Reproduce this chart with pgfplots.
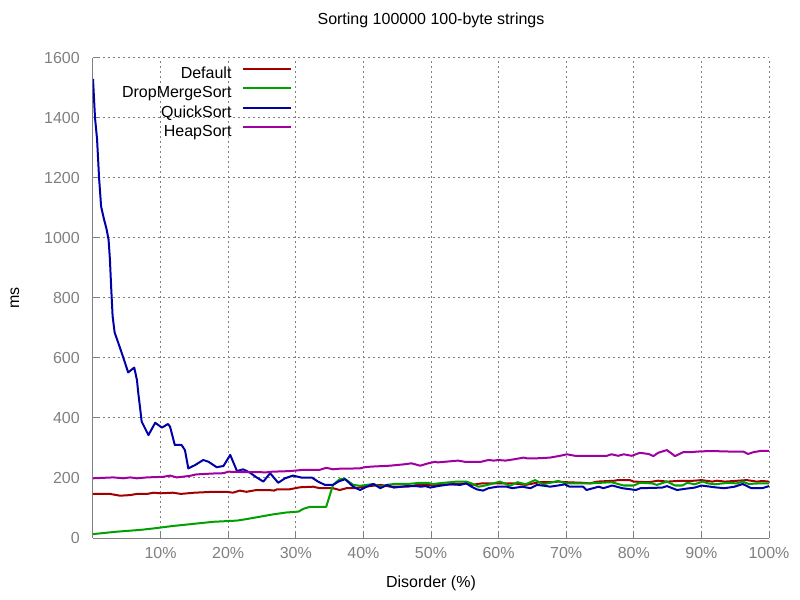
\documentclass[border=0pt]{standalone}
\usepackage{pgfplots}
\pgfplotsset{compat=1.18}
\usepackage{fontspec}
\setmainfont{Liberation Sans}
\definecolor{cDef}{RGB}{160,0,0}
\definecolor{cDrop}{RGB}{0,160,0}
\definecolor{cQuick}{RGB}{0,0,168}
\definecolor{cHeap}{RGB}{160,0,160}
\definecolor{tickgray}{RGB}{128,128,128}
\begin{document}
\begin{tikzpicture}[font=\fontsize{12}{14}\selectfont]
\path[use as bounding box] (-69.75pt,-46.5pt) rectangle (530.25pt,403.5pt);
\begin{axis}[
  at={(0pt,0pt)}, anchor=origin,
  scale only axis, width=507pt, height=360pt,
  xmin=0, xmax=100, ymin=0, ymax=1600,
  xtick={10,20,...,100},
  ytick={0,200,...,1600},
  xticklabel={\pgfmathprintnumber{\tick}\%},
  /pgf/number format/assume math mode=true,
  /pgf/number format/set thousands separator={},
  tick label style={font=\fontsize{12}{14}\selectfont, text=tickgray, inner sep=0pt},
  xticklabel style={anchor=center, yshift=-11.25pt},
  yticklabel style={anchor=east, xshift=-9.75pt},
  scaled ticks=false,
  axis x line*=bottom, axis y line*=left,
  axis line style={draw=tickgray, line width=0.75pt, -},
  tick align=inside, major tick length=3.75pt,
  tick style={draw=tickgray, line width=0.75pt},
  grid=major,
  grid style={draw=tickgray, line width=0.75pt, dash pattern=on 1.5pt off 2.25pt},
  title={Sorting 100000 100-byte strings},
  title style={at={(0.5,1)}, anchor=center, yshift=22.5pt, font=\fontsize{12}{14}\selectfont},
  xlabel={Disorder (\%)},
  xlabel style={at={(0.5,0)}, anchor=center, yshift=-33.75pt, font=\fontsize{12}{14}\selectfont},
  ylabel={ms},
  ylabel style={at={(axis description cs:-0.1154,0.5)}, anchor=center, font=\fontsize{12}{14}\selectfont},
  legend plot pos=right,
  legend cell align=right,
  legend image code/.code={\path (0pt,4pt); \draw[#1] (6.75pt,4pt) -- (42.75pt,4pt);},
  legend style={draw=none, fill=none, at={(rel axis cs:0.3004,0.9892)}, anchor=north east,
    font=\fontsize{12}{14}\selectfont, row sep=2.6pt,
    nodes={inner sep=1pt, text height=8pt, text depth=2pt}},
  every axis plot/.append style={line width=1.5pt, no markers, line join=round},
]
\addplot[cDef] coordinates {
(0,147) (2.5,147) (4,141) (5.5,143) (6.5,147) (8,147) (9,151) (10,149) (11.8,151) (13,147)
(15,151) (17.8,154) (19.8,154) (20.7,151) (21.7,158) (22.7,154) (24.2,160) (26,160) (26.8,158) (27.2,162)
(29,162) (30.6,169) (32.6,171) (33.5,166) (35.5,166) (36.5,160) (37.5,166) (39,166) (39.5,169) (41,173)
(42.5,177) (44,171) (46.5,171) (48,177) (51.5,177) (55.2,182) (56,177) (57.5,182) (59.8,182) (62.2,182)
(64,177) (66.1,186) (68,186) (68.8,188) (70,186) (72.5,184) (73.5,182) (74.6,188) (77.2,191) (77.6,193)
(79.4,193) (80,188) (82.2,186) (83.6,191) (85,188) (86.4,190) (88,190) (89,191) (90,193) (91.6,188)
(92.3,191) (93.5,188) (96.7,193) (98.2,188) (99,190) (100,188)
};
\addlegendentry{Default}
\addplot[cDrop] coordinates {
(0,13) (3.5,21) (7,27) (9,32) (11.8,40) (14.8,47) (17.8,54) (21.3,58) (22.7,63) (24.7,71)
(26.7,79) (28.6,85) (30.4,88) (31.1,97) (32.1,104) (34.5,104) (35.5,177) (36.5,196) (37.2,198) (38.5,177)
(39.5,174) (40.5,177) (41.5,180) (42.5,171) (43.5,177) (44.5,180) (46.5,180) (48.4,184) (49.6,184) (50.2,179)
(51,182) (53.8,188) (55.2,188) (56,182) (57,171) (57.6,173) (58.4,177) (60.2,188) (61.7,174) (62.8,186)
(64,179) (65.4,193) (66.6,179) (67.6,184) (68.8,190) (70,182) (73.5,182) (76.7,186) (78.5,175) (80,175)
(80.9,184) (82.7,182) (83.4,177) (84.9,188) (86.1,175) (87.2,175) (87.9,184) (89,179) (90.2,188) (91,182)
(92,179) (94,184) (95.2,182) (96.1,188) (97,180) (98.5,182) (100,182)
};
\addlegendentry{DropMergeSort}
\addplot[cQuick] coordinates {
(0,1530) (0.3,1400) (0.6,1330) (0.9,1200) (1.2,1105) (1.6,1065) (2.0,1030) (2.3,995) (2.5,930) (2.7,830)
(2.9,740) (3.2,685) (3.9,640) (4.5,600) (5.2,552) (6.1,568) (6.5,527) (6.7,483) (7.0,427) (7.2,388)
(8.2,343) (9.2,384) (10.2,368) (11.1,380) (11.4,371) (12.1,310) (13.1,310) (13.6,293) (14.1,232) (15.1,243)
(16.3,260) (17.1,254) (18.3,236) (19.3,240) (20.3,277) (21.3,223) (22.2,229) (23.2,218) (24.2,202) (25.2,188)
(26.2,216) (27.4,184) (28.4,199) (29.6,208) (30.9,201) (32.4,201) (33.3,188) (34.3,177) (35.5,177) (36.3,188)
(37.3,196) (38.5,171) (39.5,160) (40.5,171) (41.5,180) (42.5,166) (43.5,177) (44.5,168) (46.4,173) (47.8,173)
(48.5,171) (49.2,173) (49.9,168) (51,173) (52.8,179) (54.3,177) (55.2,182) (56,171) (56.8,162) (57.7,158)
(58.5,166) (59.8,171) (61.2,171) (62,166) (63.5,171) (64.7,166) (65.7,177) (67.1,173) (67.6,171) (68.8,175)
(69.8,179) (70.5,171) (72.5,171) (73,160) (74.8,171) (75.5,166) (76.8,175) (78.3,166) (80.3,160) (81,166)
(84.2,168) (84.9,173) (86.4,160) (87.6,164) (89,168) (90,175) (92,169) (93.4,166) (94.9,171) (96.1,180)
(97.4,166) (99,166) (100,173)
};
\addlegendentry{QuickSort}
\addplot[cHeap] coordinates {
(0,199) (3,202) (4.5,199) (5.5,202) (6.5,199) (8,202) (10.4,204) (11.4,208) (12.4,202) (14.3,207)
(15.3,212) (17.8,215) (19.3,216) (20,221) (21.7,220) (25.7,219) (26.5,221) (29.1,223) (31.1,227) (33.5,227)
(34.5,234) (35.5,229) (36.5,231) (39.5,232) (40.2,236) (41.2,238) (43.9,241) (46.2,246) (47.1,249) (48.4,241)
(49.6,249) (50.6,254) (51,252) (52,254) (54,258) (55,254) (57.4,254) (58.5,260) (59.3,258) (60,260)
(61,258) (62.2,262) (63.7,268) (64.3,265) (66.1,266) (67.6,268) (69.1,274) (70.1,279) (71.3,274) (76,274)
(76.7,279) (77.7,274) (78.5,279) (79.7,274) (80.9,284) (82.2,280) (82.9,273) (83.6,284) (84.6,291) (84.9,293)
(86.1,273) (87.3,286) (88.5,286) (89.3,288) (91.3,290) (94.5,288) (96.2,288) (96.9,280) (97.7,286) (98.7,290)
(100,290)
};
\addlegendentry{HeapSort}
\end{axis}
\end{tikzpicture}
\end{document}
